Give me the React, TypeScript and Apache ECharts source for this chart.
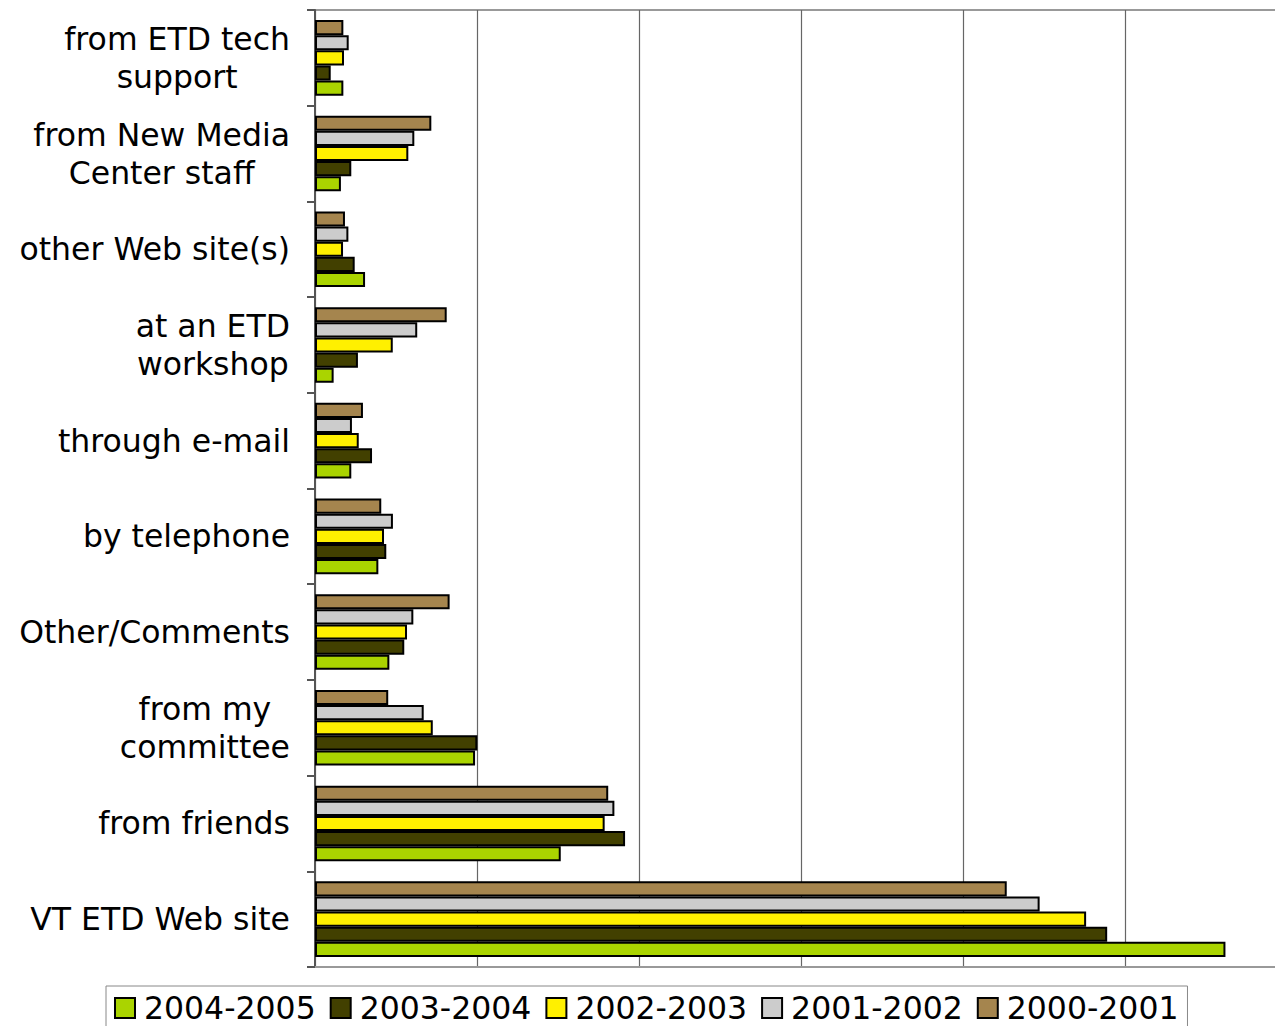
import React, { useEffect, useRef } from "react";
import * as echarts from "echarts";

const categories = [
  "from ETD tech\nsupport",
  "from New Media\nCenter staff",
  "other Web site(s)",
  "at an ETD\nworkshop",
  "through e-mail",
  "by telephone",
  "Other/Comments",
  "from my\ncommittee",
  "from friends",
  "VT ETD Web site",
];

const y2000_2001 = [1.75, 7.18, 1.85, 8.13, 2.96, 4.09, 8.31, 4.52, 18.1, 42.7];
const y2001_2002 = [2.08, 6.13, 2.06, 6.31, 2.28, 4.81, 6.07, 6.71, 18.48, 44.73];
const y2002_2003 = [1.79, 5.76, 1.73, 4.8, 2.7, 4.26, 5.68, 7.27, 17.88, 47.6];
const y2003_2004 = [0.97, 2.24, 2.45, 2.65, 3.52, 4.4, 5.51, 10.02, 19.14, 48.9];
const y2004_2005 = [1.75, 1.6, 3.09, 1.15, 2.24, 3.91, 4.59, 9.88, 15.17, 56.2];

const seriesNames = ["2000-2001", "2001-2002", "2002-2003", "2003-2004", "2004-2005"];
const seriesData = [y2000_2001, y2001_2002, y2002_2003, y2003_2004, y2004_2005];
const seriesColors = ["#A5854E", "#CCCCCC", "#FFF000", "#424000", "#AAD400"];
const legendOrder = ["2004-2005", "2003-2004", "2002-2003", "2001-2002", "2000-2001"];

const FONT = "DejaVu Sans";

export default function App() {
  const ref = useRef<HTMLDivElement>(null);
  useEffect(() => {
    if (!ref.current) return;
    const chart = echarts.init(ref.current, null, { renderer: "svg" });
    chart.setOption({
      animation: false,
      backgroundColor: "#ffffff",
      grid: {
        left: 315,
        right: -12,
        top: 10,
        bottom: 59,
        show: true,
        borderColor: "#999999",
        borderWidth: 2,
        backgroundColor: "transparent",
        containLabel: false,
        outerBoundsMode: "none",
      },
      legend: {
        data: legendOrder,
        left: 106,
        top: 986,
        orient: "horizontal",
        itemWidth: 20,
        itemHeight: 20,
        itemGap: 14,
        icon: "rect",
        borderColor: "#888888",
        borderWidth: 1,
        padding: [6, 9, 6, 8],
        textStyle: {
          fontFamily: FONT,
          fontSize: 31.5,
          lineHeight: 30,
          color: "#000000",
          padding: [0, 0, 0, 4],
        },
      },
      xAxis: {
        type: "value",
        min: 0,
        max: 60,
        interval: 10,
        axisLabel: { show: false },
        axisTick: { show: false },
        axisLine: { show: true, lineStyle: { color: "#999999", width: 2 } },
        splitLine: { show: true, lineStyle: { color: "#666666", width: 1.2 } },
      },
      yAxis: {
        type: "category",
        inverse: true,
        data: categories,
        axisLine: { show: true, lineStyle: { color: "#555555", width: 2 } },
        axisTick: { show: true, length: 8, lineStyle: { color: "#555555", width: 2 } },
        axisLabel: {
          margin: 25,
          align: "right",
          formatter: (v: string) =>
            v
              .split("\n")
              .map((l) => `{c|${l}}`)
              .join("\n"),
          rich: {
            c: {
              align: "center",
              fontFamily: FONT,
              fontSize: 31.5,
              color: "#000000",
              lineHeight: 38,
            },
          },
        },
        splitLine: { show: false },
      },
      series: seriesNames.map((name, i) => ({
        name,
        type: "bar",
        data: seriesData[i],
        barGap: "0%",
        barCategoryGap: "21%",
        itemStyle: {
          color: seriesColors[i],
          borderColor: "#000000",
          borderWidth: 2,
        },
      })),
    });
    return () => chart.dispose();
  }, []);
  return (
    <div
      ref={ref}
      style={{ position: "absolute", left: 0, top: 0, width: 1275, height: 1026 }}
    />
  );
}
